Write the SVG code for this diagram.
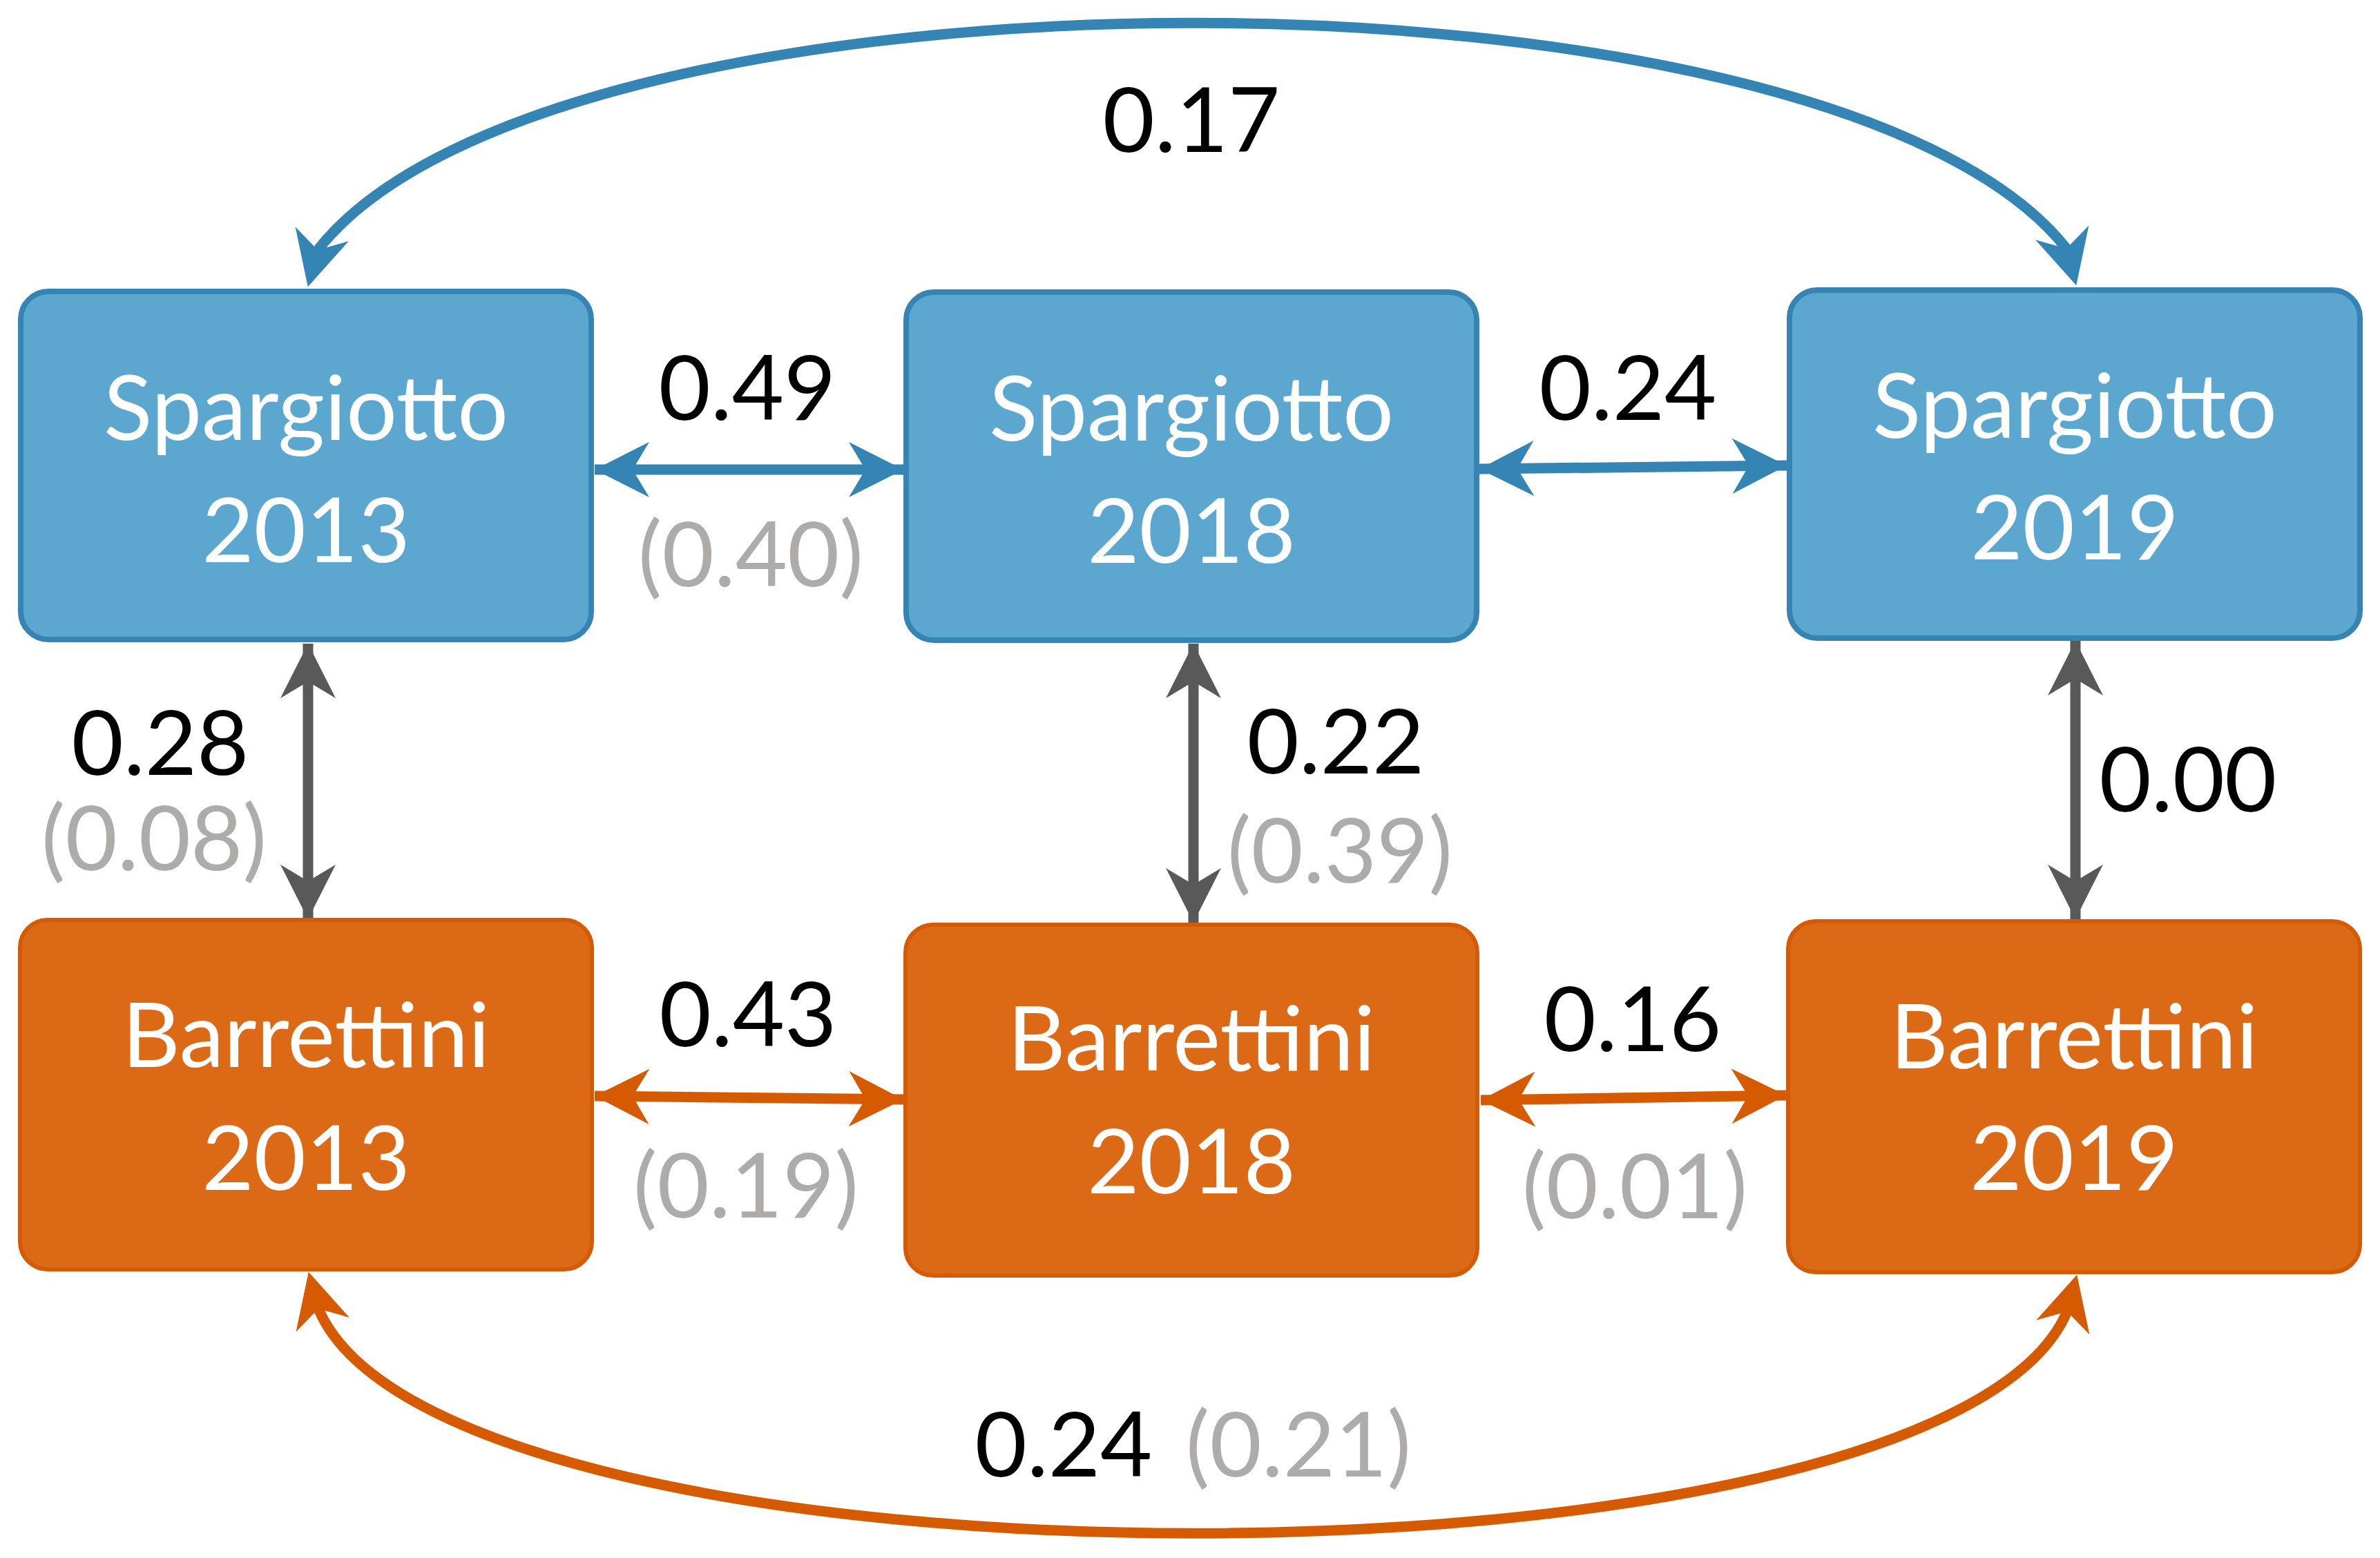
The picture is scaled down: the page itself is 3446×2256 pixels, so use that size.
<svg xmlns="http://www.w3.org/2000/svg" width="3446" height="2256" viewBox="0 0 3446 2256">
<style>
  text { font-family: Lato, "Open Sans", "Liberation Sans", sans-serif; font-size: 130px; text-anchor: middle; }
  .blue rect { fill: #5BA7CF; stroke: #3584B3; stroke-width: 8; }
  .orange rect { fill: #DC6915; stroke: #D55A04; stroke-width: 6; }
  .node text { fill: #FFFFFF; }
  .lbl { fill: #000000; }
  .sub { fill: #AEABAB; }
  .cb { fill: none; stroke: #3484B4; stroke-width: 15; }
  .co { fill: none; stroke: #D65B00; stroke-width: 15; }
  .cg { fill: none; stroke: #595959; stroke-width: 15; }
</style>
<defs>
  <marker id="mb" markerUnits="userSpaceOnUse" viewBox="0 0 80 80" markerWidth="80" markerHeight="80" refX="79" refY="40" orient="auto-start-reverse"><path d="M0,0 L79,40 L0,80 L24,40 Z" fill="#3484B4"/></marker>
  <marker id="mo" markerUnits="userSpaceOnUse" viewBox="0 0 80 80" markerWidth="80" markerHeight="80" refX="79" refY="40" orient="auto-start-reverse"><path d="M0,0 L79,40 L0,80 L24,40 Z" fill="#D65B00"/></marker>
  <marker id="mg" markerUnits="userSpaceOnUse" viewBox="0 0 80 80" markerWidth="80" markerHeight="80" refX="79" refY="40" orient="auto-start-reverse"><path d="M0,0 L79,40 L0,80 L24,40 Z" fill="#595959"/></marker>
  <marker id="mbL" markerUnits="userSpaceOnUse" viewBox="0 0 80 80" markerWidth="80" markerHeight="80" refX="24" refY="40" orient="105"><path d="M0,0 L79,40 L0,80 L24,40 Z" fill="#3484B4"/></marker>
  <marker id="mbR" markerUnits="userSpaceOnUse" viewBox="0 0 80 80" markerWidth="80" markerHeight="80" refX="24" refY="40" orient="75"><path d="M0,0 L79,40 L0,80 L24,40 Z" fill="#3484B4"/></marker>
  <marker id="moL" markerUnits="userSpaceOnUse" viewBox="0 0 80 80" markerWidth="80" markerHeight="80" refX="24" refY="40" orient="255"><path d="M0,0 L79,40 L0,80 L24,40 Z" fill="#D65B00"/></marker>
  <marker id="moR" markerUnits="userSpaceOnUse" viewBox="0 0 80 80" markerWidth="80" markerHeight="80" refX="24" refY="40" orient="285"><path d="M0,0 L79,40 L0,80 L24,40 Z" fill="#D65B00"/></marker>
</defs>
<rect width="3446" height="2256" fill="#FFFFFF"/>

<g id="connectors">
  <path class="cb" d="M460,362 C803,-76 2649,-76 2992,360" marker-start="url(#mbL)" marker-end="url(#mbR)"/>
  <path class="co" d="M461,1895 C642,2328 2812,2328 2993,1899" marker-start="url(#moL)" marker-end="url(#moR)"/>
  <path class="cb" d="M861,680 L1308,680" marker-start="url(#mb)" marker-end="url(#mb)"/>
  <path class="cb" d="M2142,679 L2587,674" marker-start="url(#mb)" marker-end="url(#mb)"/>
  <path class="co" d="M861,1587 L1308,1592" marker-start="url(#mo)" marker-end="url(#mo)"/>
  <path class="co" d="M2144,1593 L2586,1586" marker-start="url(#mo)" marker-end="url(#mo)"/>
  <path class="cg" d="M446,932 L446,1331" marker-start="url(#mg)" marker-end="url(#mg)"/>
  <path class="cg" d="M1728,932 L1728,1336" marker-start="url(#mg)" marker-end="url(#mg)"/>
  <path class="cg" d="M3005,928 L3005,1331" marker-start="url(#mg)" marker-end="url(#mg)"/>
</g>

<g id="labels">
  <text class="lbl" x="1725" y="220">0.17</text>
  <text class="lbl" x="1082" y="608">0.49</text>
  <text class="sub" x="1087" y="849">(0.40)</text>
  <text class="lbl" x="2357" y="608">0.24</text>
  <text class="lbl" x="232" y="1122">0.28</text>
  <text class="sub" x="223" y="1260">(0.08)</text>
  <text class="lbl" x="1934" y="1120">0.22</text>
  <text class="sub" x="1940" y="1278">(0.39)</text>
  <text class="lbl" x="3168" y="1175">0.00</text>
  <text class="lbl" x="1083" y="1515">0.43</text>
  <text class="sub" x="1080" y="1763">(0.19)</text>
  <text class="lbl" x="2364" y="1522">0.16</text>
  <text class="sub" x="2367" y="1764">(0.01)</text>
  <text y="2138"><tspan class="lbl" x="1540">0.24</tspan><tspan class="sub" x="1880">(0.21)</tspan></text>
</g>

<g id="s2013" class="node blue">
  <rect x="30" y="422" width="826" height="504" rx="40"/>
  <text x="443" y="637">Spargiotto</text>
  <text x="443" y="814">2013</text>
</g>
<g id="s2018" class="node blue">
  <rect x="1312" y="423" width="826" height="504" rx="40"/>
  <text x="1725" y="638">Spargiotto</text>
  <text x="1725" y="815">2018</text>
</g>
<g id="s2019" class="node blue">
  <rect x="2591" y="420" width="826" height="504" rx="40"/>
  <text x="3004" y="634">Spargiotto</text>
  <text x="3004" y="810">2019</text>
</g>
<g id="b2013" class="node orange">
  <rect x="29" y="1332" width="828" height="506" rx="40"/>
  <text x="443" y="1545">Barrettini</text>
  <text x="443" y="1723">2013</text>
</g>
<g id="b2018" class="node orange">
  <rect x="1311" y="1339" width="828" height="508" rx="40"/>
  <text x="1725" y="1550">Barrettini</text>
  <text x="1725" y="1728">2018</text>
</g>
<g id="b2019" class="node orange">
  <rect x="2589" y="1334" width="828" height="508" rx="40"/>
  <text x="3003" y="1547">Barrettini</text>
  <text x="3003" y="1723">2019</text>
</g>
</svg>
